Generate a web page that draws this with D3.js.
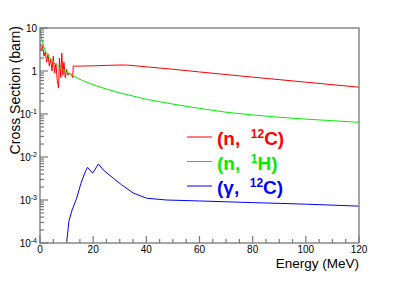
<!DOCTYPE html>
<html>
<head>
<meta charset="utf-8">
<script src="https://cdn.jsdelivr.net/npm/d3@7"></script>
<style>
  body { margin: 0; background: #fff; }
  svg { display: block; font-family: "Liberation Sans", Arial, sans-serif; }
</style>
</head>
<body>
<svg id="chart" width="399" height="286"></svg>
<script>
// (n, 12C) total cross section
const energyNC = [0, 0.5, 1.0, 1.5, 2.0, 2.5, 3.0, 3.5, 4.0, 4.5, 5.0, 5.5, 6.0, 6.5, 7.0, 7.3, 7.8, 8.2, 8.6, 9.0, 9.5, 10, 10.5, 11, 11.5, 12, 12.3, 12.5, 14, 20, 25, 30, 33, 40, 50, 60, 80, 100, 120];
const xsNC = [4.5, 3.0, 3.8, 2.2, 2.8, 1.6, 2.5, 1.3, 1.9, 1.0, 2.2, 0.9, 1.5, 0.6, 0.4, 2.0, 0.7, 2.6, 0.8, 1.6, 0.7, 1.1, 0.8, 0.9, 0.85, 0.8, 0.7, 1.3, 1.3, 1.32, 1.35, 1.38, 1.37, 1.25, 1.1, 0.95, 0.72, 0.55, 0.42];

// (n, 1H)
const energyNH = [0.05, 0.5, 1, 2, 3, 4, 5, 6, 8, 10, 12, 14, 16, 20, 25, 30, 40, 50, 60, 70, 80, 90, 100, 110, 120];
const xsNH = [10, 6.2, 4.3, 2.9, 2.3, 1.9, 1.6, 1.4, 1.15, 0.95, 0.8, 0.69, 0.6, 0.48, 0.38, 0.31, 0.22, 0.17, 0.135, 0.11, 0.095, 0.084, 0.076, 0.07, 0.064];

// (gamma, 12C)
const energyGC = [10.0, 10.9, 12.1, 13.8, 15.4, 17.2, 17.9, 19.8, 22.0, 23.8, 27.6, 30.7, 35.1, 40.1, 47.6, 60, 80, 100, 120];
const xsGC = [1e-4, 3.3e-4, 5.9e-4, 1.1e-3, 2.45e-3, 4.8e-3, 5.75e-3, 4.2e-3, 6.9e-3, 5.0e-3, 3.2e-3, 2.25e-3, 1.45e-3, 1.1e-3, 1.0e-3, 0.95e-3, 0.87e-3, 0.8e-3, 0.72e-3];

const xMajor = [0, 20, 40, 60, 80, 100, 120];
const yMajor = [1e-4, 1e-3, 1e-2, 1e-1, 1, 10];
const yLabels = [["10", "-4"], ["10", "-3"], ["10", "-2"], ["10", "-1"], ["1", ""], ["10", ""]];

const legendItems = [
  {label: "(n,  ", sup: "12", tail: "C)", color: "#ff0000"},
  {label: "(n,  ", sup: "1", tail: "H)", color: "#00ee00"},
  {label: "(\u03b3,  ", sup: "12", tail: "C)", color: "#0000ff"}
];

const svg = d3.select("#chart"),
    margin = {top: 28, right: 40, bottom: 43, left: 40},
    width = 399 - margin.left - margin.right,
    height = 286 - margin.top - margin.bottom,
    g = svg.append("g").attr("transform", "translate(" + margin.left + "," + margin.top + ")");

const x = d3.scaleLinear().domain([0, 120]).range([0, width]);
const y = d3.scaleLog().domain([1e-4, 10]).range([height, 0]);

// clip for curves
g.append("clipPath").attr("id", "clip").append("rect")
    .attr("width", width).attr("height", height);

const line = d3.line()
    .x(function(d) { return x(d[0]); })
    .y(function(d) { return y(d[1]); });

function drawCurve(es, vs, color) {
  g.append("path")
      .datum(es.map(function(e, i) { return [e, vs[i]]; }))
      .attr("clip-path", "url(#clip)")
      .attr("fill", "none")
      .attr("stroke", color)
      .attr("stroke-width", 1)
      .attr("d", line);
}
drawCurve(energyNC, xsNC, "#ff0000");
drawCurve(energyNH, xsNH, "#00ee00");
drawCurve(energyGC, xsGC, "#0000ff");

// frame
const axisColor = "#777";
g.append("rect")
    .attr("width", width).attr("height", height)
    .attr("fill", "none").attr("stroke", axisColor).attr("stroke-width", 1.3);

// x axis: minor every 5
const xMinor = d3.range(0, 121, 5).filter(function(v) { return v % 20 !== 0; });
g.append("g")
    .attr("transform", "translate(0," + height + ")")
    .selectAll("line").data(xMajor.concat(xMinor)).enter().append("line")
    .attr("x1", function(d) { return x(d); }).attr("x2", function(d) { return x(d); })
    .attr("y1", 0).attr("y2", function(d) { return d % 20 === 0 ? -7 : -4; })
    .attr("stroke", axisColor).attr("stroke-width", 1.2);

g.append("g").selectAll("text").data(xMajor).enter().append("text")
    .attr("x", function(d) { return x(d); })
    .attr("y", height + 10)
    .attr("font-size", "10px")
    .attr("text-anchor", "middle")
    .text(function(d) { return d; });

// y axis: log ticks
let yMinor = [];
for (let p = -4; p < 1; p++) {
  for (let k = 2; k <= 9; k++) yMinor.push(k * Math.pow(10, p));
}
g.append("g").selectAll("line").data(yMajor.concat(yMinor)).enter().append("line")
    .attr("x1", 0)
    .attr("x2", function(d, i) { return i < yMajor.length ? 8 : 4; })
    .attr("y1", function(d) { return y(d); }).attr("y2", function(d) { return y(d); })
    .attr("stroke", axisColor).attr("stroke-width", 1.2);

const yLab = g.append("g").selectAll("text").data(yMajor).enter().append("text")
    .attr("x", -3)
    .attr("y", function(d) { return y(d) + 4; })
    .attr("font-size", "10px")
    .attr("text-anchor", "end");
yLab.each(function(d, i) {
  const t = d3.select(this);
  t.append("tspan").text(yLabels[i][0]);
  if (yLabels[i][1]) {
    t.append("tspan").attr("font-size", "7px").attr("dy", "-4").text(yLabels[i][1]);
  }
});

// axis titles
svg.append("text")
    .attr("x", 359).attr("y", 268)
    .attr("font-size", "13.5px")
    .attr("text-anchor", "end")
    .text("Energy (MeV)");

svg.append("text")
    .attr("transform", "translate(20,26) rotate(-90)")
    .attr("font-size", "14px")
    .attr("text-anchor", "end")
    .text("Cross Section (barn)");

// legend
const legend = svg.append("g").selectAll("g").data(legendItems).enter().append("g")
    .attr("transform", function(d, i) { return "translate(0," + (137 + i * 24.5) + ")"; });

legend.append("line")
    .attr("x1", 187).attr("x2", 212)
    .attr("stroke", function(d) { return d.color; }).attr("stroke-width", 1);

const lt = legend.append("text")
    .attr("x", 217).attr("y", 8)
    .attr("font-size", "19px").attr("font-weight", "bold")
    .attr("fill", function(d) { return d.color; });
lt.append("tspan").style("white-space", "pre").text(function(d) { return d.label; });
lt.append("tspan").attr("font-size", "12px").attr("dy", "-7").text(function(d) { return d.sup; });
lt.append("tspan").attr("dy", "7").text(function(d) { return d.tail; });
</script>
</body>
</html>
